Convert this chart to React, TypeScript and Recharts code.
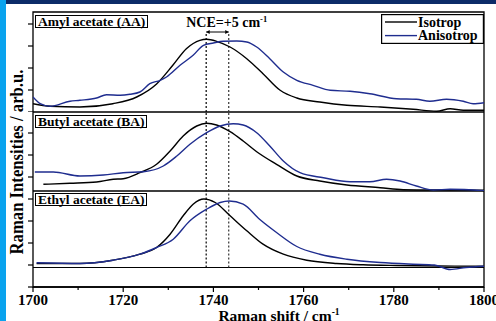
import React from "react";
import {
  LineChart,
  Line,
  XAxis,
  YAxis,
  ReferenceLine,
  ReferenceArea,
  Legend,
} from "recharts";

const FONT = '"Liberation Serif", "Times New Roman", serif';
const BLACK = "#000000";
const BLUE = "#1f2d8f";

// Raman shift ticks (cm-1), labels on every 20
const shiftTicks = [1700, 1710, 1720, 1730, 1740, 1750, 1760, 1770, 1780, 1790, 1800];

// peak positions marked by the dashed lines
const peakIso = 1738.4;
const peakAniso = 1743.4;

const seriesOrder = ["Isotrop", "Anisotrop"];

// Amyl acetate (AA)
const aaIsoShift = [1700, 1703.8, 1710.4, 1717.7, 1723, 1727.4, 1731, 1734, 1737, 1738.5, 1740.7, 1743.7, 1747.4, 1751, 1754.8, 1758.5, 1763.6, 1769.6, 1777, 1784.3, 1789.5, 1792.5, 1795.4, 1800];
const aaIsoInt = [8.3, 5.7, 5, 8.3, 15, 28, 46.7, 63.3, 71.7, 72.7, 70.7, 65, 53.3, 38.3, 21.7, 14, 10, 6.7, 5, 2.7, 0.7, 3.3, 1.7, 1.7];
const aaAnisoShift = [1700, 1701.6, 1703.8, 1708.2, 1710.4, 1714.1, 1716.3, 1719.3, 1721.5, 1723.7, 1725.9, 1728.2, 1729.6, 1732.6, 1735.5, 1737.8, 1740, 1742.2, 1745.2, 1747.4, 1749.6, 1752.5, 1755.5, 1758.5, 1762.1, 1765.9, 1770.3, 1774.7, 1780.6, 1785, 1788, 1791.7, 1795.4, 1797.6, 1800];
const aaAnisoInt = [15, 8.3, 5.7, 10.7, 11.7, 14, 17.3, 16.7, 17.7, 20, 28.3, 31.7, 35, 46.7, 56.7, 66.7, 69, 70.7, 71, 70, 65, 53.3, 40, 31.7, 26.7, 21.7, 20.7, 18.3, 13.3, 12.7, 10.7, 12.7, 10.7, 8.3, 9.3];

// Butyl acetate (BA)
const baIsoShift = [1702.3, 1708.2, 1714.1, 1717.8, 1720, 1723.7, 1727.4, 1730.4, 1733.3, 1736.3, 1738.5, 1740.7, 1743.7, 1746.6, 1749.6, 1754, 1758.5, 1763.6, 1769.6, 1777, 1782.1, 1788, 1795, 1800];
const baIsoInt = [6.7, 7.7, 9, 11.7, 12.3, 18.3, 26.7, 40, 55, 65, 67.7, 66, 59.3, 50, 39.3, 26.7, 15, 10, 6, 3.3, 1.3, 1, 1, 0.7];
const baAnisoShift = [1700.4, 1704.5, 1710.4, 1715.6, 1720, 1724.5, 1728.9, 1731.9, 1734.8, 1738.5, 1741.5, 1744.4, 1746.6, 1749.6, 1752.5, 1755.5, 1759.2, 1764.4, 1770.3, 1774.7, 1778.4, 1781.4, 1785, 1788.8, 1792.5, 1800];
const baAnisoInt = [19, 19, 15, 16, 18.3, 19.3, 25, 35, 46.7, 58.3, 65, 67.3, 66, 58.3, 45, 30, 18.3, 13.3, 9.3, 9.3, 11.7, 10, 5, 1, 1.7, 0.3];

// Ethyl acetate (EA)
const eaIsoShift = [1700.8, 1710.4, 1717.7, 1723.7, 1727.4, 1730.4, 1733.3, 1735.5, 1737.9, 1740.4, 1743.7, 1747.4, 1751, 1755.5, 1760.7, 1767.3, 1773.2, 1780.6, 1790, 1800];
const eaIsoInt = [4, 4, 7.3, 13.3, 20, 33.3, 51.7, 63.3, 68.5, 65, 51.7, 36.7, 23.3, 13.3, 7.3, 4, 2.7, 2, 1.5, 1.3];
const eaAnisoShift = [1700.8, 1710.4, 1717.7, 1723.7, 1727.4, 1731.1, 1734.8, 1738.5, 1741.5, 1743.5, 1746.6, 1750.3, 1754, 1758.5, 1763.6, 1769.6, 1777, 1784.3, 1789, 1792.5, 1796, 1800];
const eaAnisoInt = [4.7, 4, 7.3, 13.3, 20, 28.3, 46.7, 58.3, 65, 66.5, 63.3, 48, 35, 21, 13.3, 8.3, 5, 3.3, 2.5, -2, 0, 1.3];

const zip = (xs: number[], ys: number[]) => xs.map((x, i) => ({ shift: x, int: ys[i] }));

const aaIso = zip(aaIsoShift, aaIsoInt);
const aaAniso = zip(aaAnisoShift, aaAnisoInt);
const baIso = zip(baIsoShift, baIsoInt);
const baAniso = zip(baAnisoShift, baAnisoInt);
const eaIso = zip(eaIsoShift, eaIsoInt);
const eaAniso = zip(eaAnisoShift, eaAnisoInt);

const W = 496;
const MARGIN_R = 12;
const Y_W = 33;

const ShiftTick = (props: any) => {
  const { x, y, payload } = props;
  const major = payload.value % 20 === 0;
  return (
    <g>
      <line x1={x} x2={x} y1={y} y2={y + (major ? 5 : 3)} stroke={BLACK} strokeWidth={1.2} />
      {major && (
        <text x={x} y={y + 17.5} textAnchor="middle" fontFamily={FONT} fontWeight="bold" fontSize={15} fill={BLACK}>
          {payload.value}
        </text>
      )}
    </g>
  );
};

const NceArrow = (props: any) => {
  const { x1, y1, x2 } = props;
  return (
    <g>
      <line x1={x1} x2={x2} y1={y1} y2={y1} stroke={BLACK} strokeWidth={1} />
      <path d={`M${x1},${y1} l3.5,-2 l0,4 z`} fill={BLACK} />
      <path d={`M${x2},${y1} l-3.5,-2 l0,4 z`} fill={BLACK} />
      <text x={x1 - 20} y={y1 - 5.5} fontFamily={FONT} fontWeight="bold" fontSize={14} fill={BLACK}>
        NCE=+5 cm
        <tspan dy={-5} fontSize={8.5}>-1</tspan>
      </text>
    </g>
  );
};

const LegendBox = (props: any) => {
  const items = (props.payload || [])
    .map((p: any) => ({ name: p.value, color: p.color }))
    .sort((a: any, b: any) => seriesOrder.indexOf(a.name) - seriesOrder.indexOf(b.name));
  return (
    <svg width={103} height={30} style={{ display: "block" }}>
      <rect x={0.6} y={0.6} width={101.8} height={28.8} fill="#fff" stroke={BLACK} strokeWidth={1.2} />
      {items.map((it: any, i: number) => (
        <g key={it.name}>
          <line x1={4} x2={36} y1={8 + i * 13.6} y2={8 + i * 13.6} stroke={it.color} strokeWidth={1.4} />
          <text x={37} y={12.6 + i * 13.6} fontFamily={FONT} fontWeight="bold" fontSize={14} fill={BLACK}>
            {it.name}
          </text>
        </g>
      ))}
    </svg>
  );
};

const frame = (y1: number, y2: number) => (
  <ReferenceArea
    x1={1700}
    x2={1800}
    y1={y1}
    y2={y2}
    fill="none"
    stroke={BLACK}
    strokeWidth={1.3}
    ifOverflow="visible"
  />
);

const yAxis = (domain: number[], ticks: number[]) => (
  <YAxis
    type="number"
    domain={domain}
    ticks={ticks}
    width={Y_W}
    allowDataOverflow
    axisLine={false}
    tickSize={5}
    tickLine={{ stroke: BLACK, strokeWidth: 1.2 }}
    tickFormatter={() => ""}
  />
);

const hiddenX = <XAxis type="number" dataKey="shift" domain={[1700, 1800]} hide allowDataOverflow />;

const dashed = (x: number, y1: number | null, y2: number | null, color: string) =>
  y1 === null ? (
    <ReferenceLine x={x} stroke={color} strokeWidth={1.2} strokeDasharray="2 2" />
  ) : (
    <ReferenceLine
      segment={[{ x, y: y1 }, { x, y: y2 as number }]}
      stroke={color}
      strokeWidth={1.2}
      strokeDasharray="2 2"
    />
  );

const PanelLabel = ({ text, top }: { text: string; top: number }) => (
  <div
    style={{
      position: "absolute",
      left: 35,
      top,
      border: "1px solid #000",
      background: "#fff",
      fontFamily: FONT,
      fontWeight: "bold",
      fontSize: 13.5,
      lineHeight: "11px",
      padding: "0 2px",
      whiteSpace: "nowrap",
      color: BLACK,
    }}
  >
    {text}
  </div>
);

export default function App() {
  return (
    <div
      style={{
        position: "absolute",
        left: 0,
        top: 0,
        width: W,
        height: 321,
        background: "#fff",
        overflow: "hidden",
      }}
    >
      <div style={{ position: "absolute", left: 0, top: 0 }}>
        <LineChart width={W} height={112} margin={{ top: 12, right: MARGIN_R, left: 0, bottom: 0 }}>
          {hiddenX}
          {yAxis([0, 100], [0, 22, 44, 66, 88])}
          {frame(0, 100)}
          {dashed(peakIso, 0, 80, BLACK)}
          {dashed(peakAniso, 0, 80, "#333")}
          <ReferenceLine
            segment={[{ x: peakIso, y: 80 }, { x: peakAniso, y: 80 }]}
            stroke={BLACK}
            shape={(p: any) => <NceArrow {...p} />}
            ifOverflow="visible"
          />
          <Line data={aaIso} dataKey="int" name="Isotrop" type="monotone" stroke={BLACK} strokeWidth={1.4} dot={false} isAnimationActive={false} />
          <Line data={aaAniso} dataKey="int" name="Anisotrop" type="monotone" stroke={BLUE} strokeWidth={1.4} dot={false} isAnimationActive={false} />
          <Legend
            layout="horizontal"
            align="center"
            verticalAlign="middle"
            wrapperStyle={{ left: 381, top: 14, width: 103, height: 30 }}
            content={LegendBox}
          />
        </LineChart>
      </div>

      <div style={{ position: "absolute", left: 0, top: 112 }}>
        <LineChart width={W} height={79} margin={{ top: 0, right: MARGIN_R, left: 0, bottom: 0 }}>
          {hiddenX}
          {yAxis([0, 79], [14, 36, 58])}
          {frame(0, 79)}
          {dashed(peakIso, null, null, BLACK)}
          {dashed(peakAniso, null, null, "#333")}
          <Line data={baIso} dataKey="int" name="Isotrop" type="monotone" stroke={BLACK} strokeWidth={1.4} dot={false} isAnimationActive={false} />
          <Line data={baAniso} dataKey="int" name="Anisotrop" type="monotone" stroke={BLUE} strokeWidth={1.4} dot={false} isAnimationActive={false} />
        </LineChart>
      </div>

      <div style={{ position: "absolute", left: 0, top: 191 }}>
        <LineChart width={W} height={130} margin={{ top: 0, right: MARGIN_R, left: 0, bottom: 0 }}>
          <XAxis
            type="number"
            dataKey="shift"
            domain={[1700, 1800]}
            ticks={shiftTicks}
            interval={0}
            height={34}
            allowDataOverflow
            axisLine={{ stroke: BLACK, strokeWidth: 1.3 }}
            tickLine={false}
            tickSize={0}
            tickMargin={0}
            tick={<ShiftTick />}
          />
          {yAxis([-19.5, 76.5], [-19.5, 2.5, 24.5, 46.5, 68.5])}
          {frame(-19.5, 76.5)}
          <ReferenceLine y={0} stroke={BLACK} strokeWidth={1.2} />
          {dashed(peakIso, 0, 76.5, BLACK)}
          {dashed(peakAniso, 0, 76.5, "#333")}
          <Line data={eaIso} dataKey="int" name="Isotrop" type="monotone" stroke={BLACK} strokeWidth={1.4} dot={false} isAnimationActive={false} />
          <Line data={eaAniso} dataKey="int" name="Anisotrop" type="monotone" stroke={BLUE} strokeWidth={1.4} dot={false} isAnimationActive={false} />
        </LineChart>
      </div>

      <PanelLabel text="Amyl acetate (AA)" top={15} />
      <PanelLabel text="Butyl acetate (BA)" top={115} />
      <PanelLabel text="Ethyl acetate (EA)" top={193} />

      <svg width={W} height={321} style={{ position: "absolute", left: 0, top: 0, pointerEvents: "none" }}>
        <text
          transform="translate(23,162) rotate(-90)"
          textAnchor="middle"
          fontFamily={FONT}
          fontWeight="bold"
          fontSize={18}
          textLength={185}
          lengthAdjust="spacingAndGlyphs"
          fill={BLACK}
        >
          Raman Intensities / arb.u.
        </text>
        <text x={279} y={321} textAnchor="middle" fontFamily={FONT} fontWeight="bold" fontSize={15.5} fill={BLACK}>
          Raman shift / cm
          <tspan dy={-6} fontSize={9.5}>-1</tspan>
        </text>
      </svg>

      <div style={{ position: "absolute", left: 0, top: 0, width: 6, height: 321, background: "#0aa3ee" }} />
      <div style={{ position: "absolute", left: 6, top: 0, width: W - 6, height: 4, background: "#0c2b68" }} />
    </div>
  );
}
